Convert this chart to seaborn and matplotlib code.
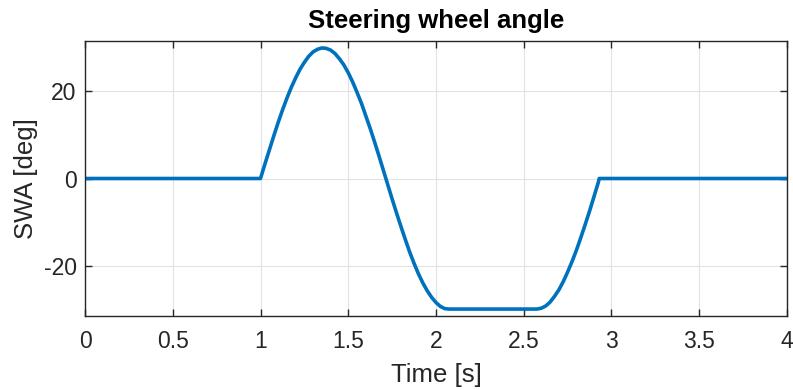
import matplotlib
matplotlib.use("Agg")
import matplotlib.pyplot as plt
import seaborn as sns
import pandas as pd

# Sine-with-dwell steering input: time [s] and steering wheel angle [deg]
time_s = [
    0.000, 1.000, 1.025, 1.050, 1.075, 1.100, 1.125, 1.150, 1.175, 1.200,
    1.225, 1.250, 1.275, 1.300, 1.325, 1.350, 1.375, 1.400, 1.425, 1.450,
    1.475, 1.500, 1.525, 1.550, 1.575, 1.600, 1.625, 1.650, 1.675, 1.700,
    1.725, 1.750, 1.775, 1.800, 1.825, 1.850, 1.875, 1.900, 1.925, 1.950,
    1.975, 2.000, 2.025, 2.050, 2.075, 2.575, 2.600, 2.625, 2.650, 2.675,
    2.700, 2.725, 2.750, 2.775, 2.800, 2.825, 2.850, 2.875, 2.900, 2.925,
    2.930, 4.000,
]
swa_deg = [
    0.0, 0.0, 3.3, 6.5, 9.7, 12.8, 15.7, 18.4, 20.9, 23.1,
    25.1, 26.7, 28.1, 29.1, 29.7, 30.0, 29.9, 29.5, 28.7, 27.5,
    26.1, 24.3, 22.2, 19.8, 17.3, 14.4, 11.5, 8.4, 5.2, 1.9,
    -1.4, -4.7, -7.9, -11.0, -14.0, -16.9, -19.5, -21.9, -24.0, -25.8,
    -27.3, -28.5, -29.4, -29.9, -30.0, -30.0, -29.8, -29.3, -28.4, -27.1,
    -25.6, -23.7, -21.5, -19.1, -16.5, -13.6, -10.6, -7.5, -4.2, -0.9,
    0.0, 0.0,
]

x_ticks = [0, 0.5, 1, 1.5, 2, 2.5, 3, 3.5, 4]
x_tick_labels = ["0", "0.5", "1", "1.5", "2", "2.5", "3", "3.5", "4"]
y_ticks = [-20, 0, 20]
y_tick_labels = ["-20", "0", "20"]

df = pd.DataFrame({"t": time_s, "swa": swa_deg})

sns.set_theme(style="whitegrid")
plt.rcParams["font.family"] = ["Liberation Sans", "DejaVu Sans"]

axis_col = "#262626"
fig = plt.figure(figsize=(7.93, 3.90), dpi=100)
ax = fig.add_axes([0.1072, 0.1897, 0.8852, 0.7052])

sns.lineplot(data=df, x="t", y="swa", ax=ax, color="#0072BD",
             linewidth=2.6, sort=False, estimator=None)

ax.set_xlim(0, 4)
ax.set_ylim(-31.6, 31.6)
ax.set_xticks(x_ticks)
ax.set_xticklabels(x_tick_labels)
ax.set_yticks(y_ticks)
ax.set_yticklabels(y_tick_labels)

ax.grid(True, color="#e2e2e2", linewidth=0.8)
ax.set_axisbelow(True)
ax.set_facecolor("white")
for side in ["left", "right", "top", "bottom"]:
    ax.spines[side].set_visible(True)
    ax.spines[side].set_color(axis_col)
    ax.spines[side].set_linewidth(1.0)

ax.tick_params(axis="both", which="both", direction="in", length=5,
               width=1.0, color=axis_col, labelcolor=axis_col,
               labelsize=16.5, top=True, right=True, bottom=True, left=True)
ax.tick_params(axis="x", pad=10)
ax.tick_params(axis="y", pad=6)

ax.set_xlabel("Time [s]", fontsize=18.5, color=axis_col, labelpad=7)
ax.set_ylabel("SWA [deg]", fontsize=18.5, color=axis_col, labelpad=4)
ax.set_title("Steering wheel angle", fontsize=18.5, fontweight="bold",
             color="black", pad=9)

fig.savefig("out.png", dpi=100, facecolor="white")
